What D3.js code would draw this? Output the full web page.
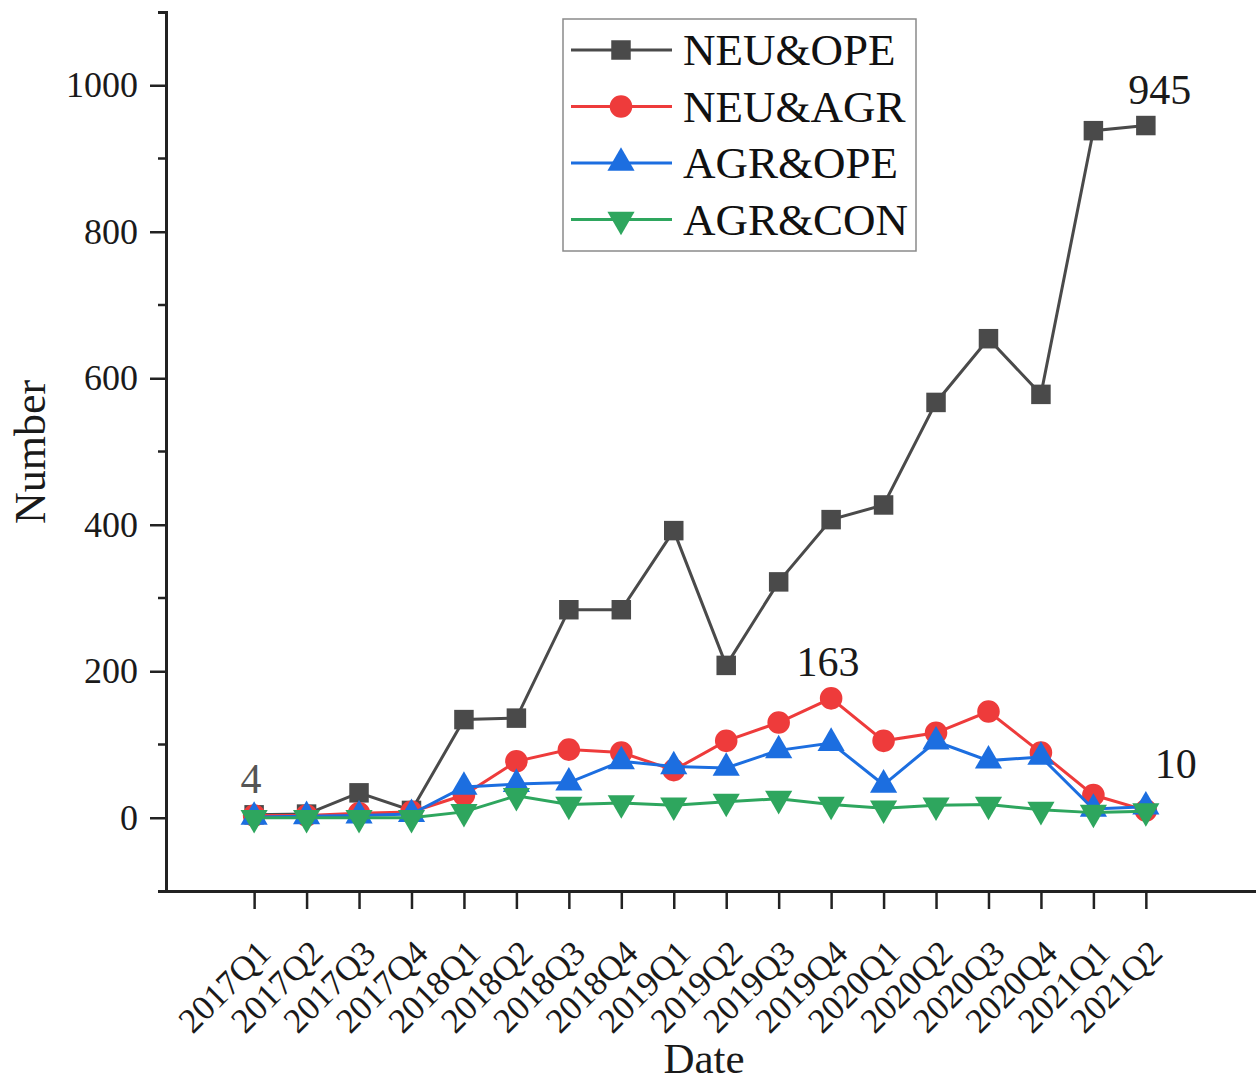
<!DOCTYPE html>
<html>
<head>
<meta charset="utf-8">
<script src="https://cdn.jsdelivr.net/npm/d3@7"></script>
<style>
  body { margin: 0; background: #fff; }
  svg { display: block; font-family: "Liberation Serif", "Times New Roman", serif; }
</style>
</head>
<body>
<div id="chart"></div>
<script>
// quarters on the x axis
const quarters = ['2017Q1', '2017Q2', '2017Q3', '2017Q4', '2018Q1', '2018Q2', '2018Q3', '2018Q4',
    '2019Q1', '2019Q2', '2019Q3', '2019Q4', '2020Q1', '2020Q2', '2020Q3', '2020Q4', '2021Q1', '2021Q2'];

// series values
const neuOpe = [4, 5, 34, 10, 134, 136, 284, 284, 392, 208, 322, 407, 427, 567, 654, 578, 938, 945];
const neuAgr = [3, 3, 6, 8, 31, 77, 93, 89, 65, 105, 130, 163, 105, 116, 145, 89, 31, 10];
const agrOpe = [1, 2, 3, 5, 42, 46, 48, 77, 70, 68, 92, 102, 45, 104, 78, 83, 12, 15];
const agrCon = [0, 0, 0, 0, 8, 30, 18, 20, 17, 22, 26, 18, 13, 17, 18, 11, 7, 9];

const seriesNames = ['NEU&OPE', 'NEU&AGR', 'AGR&OPE', 'AGR&CON'];
const yTicks = [0, 200, 400, 600, 800, 1000];
const yMinorTicks = [100, 300, 500, 700, 900];

// point labels: [series index, quarter index, text]
const notes = [[0, 0, '4'], [1, 11, '163'], [0, 17, '945'], [1, 17, '10']];

const series = [
    { name: seriesNames[0], values: neuOpe, color: '#4a4a4a', symbol: d3.symbolSquare, rot: 0 },
    { name: seriesNames[1], values: neuAgr, color: '#ee3b3b', symbol: d3.symbolCircle, rot: 0 },
    { name: seriesNames[2], values: agrOpe, color: '#1c6ee0', symbol: d3.symbolTriangle, rot: 0 },
    { name: seriesNames[3], values: agrCon, color: '#2ea65e', symbol: d3.symbolTriangle, rot: 180 }
];

const width = 1256, height = 1085;
const svg = d3.select('#chart').append('svg')
    .attr('width', width)
    .attr('height', height);

const x = d3.scaleLinear().domain([-1.68, 19.1]).range([166, 1256]);
const y = d3.scaleLinear().domain([-100, 1100]).range([891, 12]);

// symbol sizes (area) per shape
function symbolSize(s) {
    if (s === d3.symbolSquare) return 380;
    if (s === d3.symbolCircle) return 400;
    return 320;
}

// y axis
const yAxis = svg.append('g')
    .attr('transform', `translate(${x.range()[0]},0)`)
    .call(d3.axisLeft(y).tickValues(yTicks).tickFormat(d3.format('d'))
        .tickSize(16).tickSizeOuter(8).tickPadding(12));
yAxis.selectAll('text')
    .attr('font-size', 36)
    .attr('fill', '#1a1a1a')
    .attr('font-family', '"Liberation Serif", serif');
yAxis.selectAll('line').attr('stroke', '#222').attr('stroke-width', 2.5);
yAxis.select('.domain').attr('stroke', '#222').attr('stroke-width', 3);

// minor ticks
svg.append('g').selectAll('line')
    .data(yMinorTicks)
    .enter()
    .append('line')
    .attr('x1', x.range()[0] - 8)
    .attr('x2', x.range()[0])
    .attr('y1', d => y(d))
    .attr('y2', d => y(d))
    .attr('stroke', '#222')
    .attr('stroke-width', 2.5);

// x axis
const xAxis = svg.append('g')
    .attr('transform', `translate(0,${y.range()[0]})`)
    .call(d3.axisBottom(x).tickValues(d3.range(quarters.length)).tickSize(18).tickSizeOuter(0)
        .tickFormat(i => quarters[i]));
xAxis.selectAll('line').attr('stroke', '#222').attr('stroke-width', 2.5);
xAxis.select('.domain').attr('stroke', '#222').attr('stroke-width', 3);
xAxis.selectAll('text')
    .attr('font-size', 35)
    .attr('fill', '#1a1a1a')
    .attr('font-family', '"Liberation Serif", serif')
    .attr('text-anchor', 'end')
    .attr('dy', null)
    .attr('y', null)
    .attr('transform', 'translate(18,64) rotate(-45)');

// axis titles
svg.append('text')
    .attr('x', 704)
    .attr('y', 1073)
    .attr('text-anchor', 'middle')
    .attr('font-size', 43)
    .attr('fill', '#1a1a1a')
    .text('Date');

svg.append('text')
    .attr('transform', 'translate(45,452) rotate(-90)')
    .attr('text-anchor', 'middle')
    .attr('font-size', 44)
    .attr('fill', '#1a1a1a')
    .text('Number');

// lines and markers, drawn back to front
const line = d3.line()
    .x((d, i) => x(i))
    .y(d => y(d));

series.forEach(s => {
    const g = svg.append('g');
    g.append('path')
        .datum(s.values)
        .attr('d', line)
        .attr('fill', 'none')
        .attr('stroke', s.color)
        .attr('stroke-width', 3);
    g.selectAll('path.mark')
        .data(s.values)
        .enter()
        .append('path')
        .attr('class', 'mark')
        .attr('d', d3.symbol().type(s.symbol).size(symbolSize(s.symbol)))
        .attr('transform', (d, i) => `translate(${x(i)},${y(d)}) rotate(${s.rot})`)
        .attr('fill', s.color);
});

// point labels
svg.append('g').selectAll('text')
    .data(notes)
    .enter()
    .append('text')
    .attr('x', d => x(d[1]) + (d[1] === 17 ? (d[2] === '10' ? 30 : 14) : -3))
    .attr('y', d => y(series[d[0]].values[d[1]]) - (d[2] === '10' ? 32 : 22))
    .attr('text-anchor', 'middle')
    .attr('font-size', 42)
    .attr('fill', d => d[2] === '4' ? '#555' : '#1a1a1a')
    .text(d => d[2]);

// legend
const legend = svg.append('g').attr('transform', 'translate(563,19)');
legend.append('rect')
    .attr('width', 353)
    .attr('height', 232)
    .attr('fill', '#fff')
    .attr('stroke', '#8a8a8a')
    .attr('stroke-width', 1.5);

const rows = legend.selectAll('g.row')
    .data(series)
    .enter()
    .append('g')
    .attr('class', 'row')
    .attr('transform', (d, i) => `translate(0,${31 + i * 56.5})`);
rows.append('line')
    .attr('x1', 8)
    .attr('x2', 109)
    .attr('stroke', d => d.color)
    .attr('stroke-width', 3);
rows.append('path')
    .attr('d', d => d3.symbol().type(d.symbol).size(symbolSize(d.symbol))())
    .attr('transform', d => `translate(58,0) rotate(${d.rot})`)
    .attr('fill', d => d.color);
rows.append('text')
    .attr('x', 120)
    .attr('y', 15)
    .attr('font-size', 45)
    .attr('fill', '#111')
    .text(d => d.name);
</script>
</body>
</html>
